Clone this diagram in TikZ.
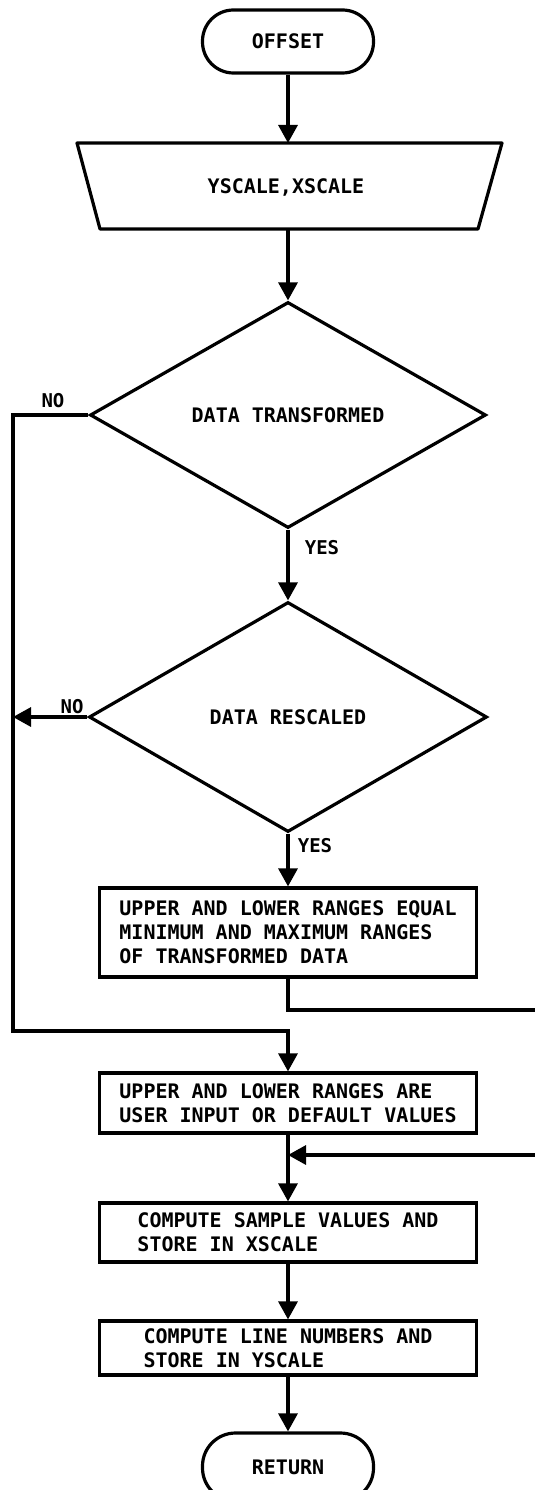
\documentclass[tikz,border=0pt]{standalone}
\usepackage{fontspec}
\newfontfamily\lerfont{DejaVu Sans Mono}
\usetikzlibrary{arrows.meta,shapes.geometric}
\begin{document}
\begin{tikzpicture}[x=1pt,y=-1pt,
  every node/.style={font=\lerfont\bfseries\fontsize{20}{24}\selectfont},
  lbl/.style={font=\lerfont\bfseries\fontsize{19}{22}\selectfont},
  ln/.style={line width=3.2pt},
  arr/.style={ln,-{Triangle[width=19pt,length=18pt]}},
  term/.style={draw,ln,rounded corners=31pt,minimum width=171pt,minimum height=63pt,inner sep=0pt},
  dec/.style={draw,ln,diamond,inner sep=0pt},
  proc/.style={draw,ln,rectangle,minimum width=377pt,align=left,inner sep=0pt}
]
\useasboundingbox (0,0) rectangle (535,1490);
\clip (0,0) rectangle (535,1490);

% terminal
\node[term] (offset) at (288,41.5) {OFFSET};

% manual input trapezoid
\draw[ln,line join=round] (77,143) -- (502,143) -- (478,229) -- (100,229) -- cycle;
\node (inp) at (286,187) {YSCALE,XSCALE};
\coordinate (inT) at (288,143);
\coordinate (inB) at (288,229);

% decisions
\node[dec,minimum width=396pt,minimum height=226pt] (d1) at (288,415) {DATA TRANSFORMED};
\node[dec,minimum width=398pt,minimum height=230pt] (d2) at (288,717) {DATA RESCALED};

% processes
\node[proc,minimum height=89pt] (b1) at (288,932.5) {UPPER AND LOWER RANGES EQUAL\\MINIMUM AND MAXIMUM RANGES\\OF TRANSFORMED DATA};
\node[proc,minimum height=60pt] (b2) at (288,1103) {UPPER AND LOWER RANGES ARE\\USER INPUT OR DEFAULT VALUES};
\node[proc,minimum height=59pt] (b3) at (288,1232.5) {COMPUTE SAMPLE VALUES AND\\STORE IN XSCALE};
\node[proc,minimum height=54pt] (b4) at (288,1348) {COMPUTE LINE NUMBERS AND\\STORE IN YSCALE};

\node[term,minimum height=68pt,rounded corners=33pt] (ret) at (288,1467) {RETURN};

% coordinates for routing
\coordinate (lbot) at (13,1031);
\coordinate (exitR) at (535,1010);
\coordinate (enterR) at (535,1155);
\coordinate (merge) at (288,1155);

% connectors
\draw[arr] (offset.south) -- (inT);
\draw[arr] (inB) -- (d1.north);
\draw[arr] (d1.west) -| (lbot) -| (b2.north);
\draw[arr] (d1.south) -- (d2.north);
\draw[arr] (d2.west) -- (d2.west -| lbot);
\draw[arr] (d2.south) -- (b1.north);
\draw[ln] (b1.south) |- (exitR);
\draw[arr] (enterR) -- (merge);
\draw[arr] (b2.south) -- (b3.north);
\draw[arr] (b3.south) -- (b4.north);
\draw[arr] (b4.south) -- (ret.north);

% labels
\node[lbl] (no1) at (53,401) {NO};
\node[lbl] (no2) at (72,707) {NO};
\node[lbl] (yes1) at (322,548) {YES};
\node[lbl] (yes2) at (315,846) {YES};
\end{tikzpicture}
\end{document}
